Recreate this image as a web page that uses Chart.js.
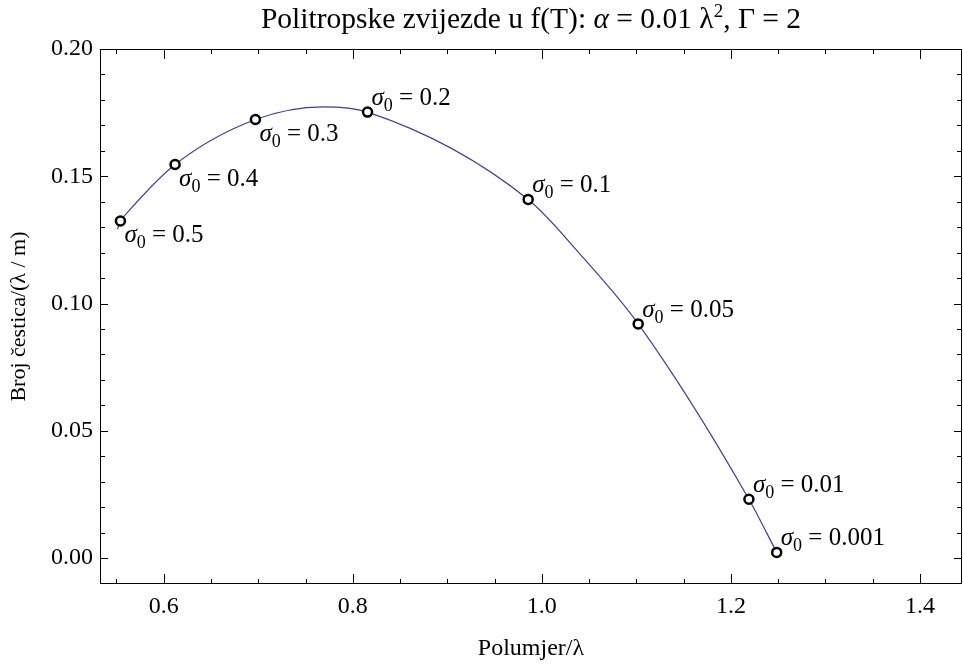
<!DOCTYPE html>
<html>
<head>
<meta charset="utf-8">
<script src="https://cdn.jsdelivr.net/npm/chart.js@4.4.0/dist/chart.umd.min.js"></script>
<style>
  html, body { margin: 0; padding: 0; background: #fff; }
</style>
</head>
<body>
<canvas id="myChart" width="963" height="668"></canvas>
<script>
// curve (radius / lambda, particle number)
const curveX = [0.5510, 0.5542, 0.5605, 0.6120, 0.6970, 0.7686, 0.8156, 0.9855, 1.0437, 1.1019, 1.2190, 1.2484];
const curveY = [0.1292, 0.1324, 0.1353, 0.1546, 0.1723, 0.1773, 0.1752, 0.1409, 0.1180, 0.0920, 0.0231, 0.0022];

// marked stars, one per central density
const sigmaLabels = ['0.5', '0.4', '0.3', '0.2', '0.1', '0.05', '0.01', '0.001'];
const markX = [0.5542, 0.6120, 0.6970, 0.8156, 0.9855, 1.1019, 1.2190, 1.2484];
const markY = [0.1324, 0.1546, 0.1723, 0.1752, 0.1409, 0.0920, 0.0231, 0.0022];

// axes
const xTicks = [0.6, 0.8, 1.0, 1.2, 1.4];
const xTickLabels = ['0.6', '0.8', '1.0', '1.2', '1.4'];
const yTicks = [0.00, 0.05, 0.10, 0.15, 0.20];
const yTickLabels = ['0.00', '0.05', '0.10', '0.15', '0.20'];

const FONT = '"Liberation Serif", "Times New Roman", serif';

const curveData = curveX.map((x, i) => ({ x: x, y: curveY[i] }));
const markData = markX.map((x, i) => ({ x: x, y: markY[i] }));

// draws pieces of text one after another: [text, font, dy]
function drawRun(ctx, parts, x, y) {
  parts.forEach(p => {
    ctx.font = p[1];
    ctx.fillText(p[0], x, y + (p[2] || 0));
    x += ctx.measureText(p[0]).width;
  });
}
function runWidth(ctx, parts) {
  let w = 0;
  parts.forEach(p => { ctx.font = p[1]; w += ctx.measureText(p[0]).width; });
  return w;
}

// frame with inward ticks, title and sigma labels (Mathematica look)
const framePlugin = {
  id: 'frame',
  afterDatasetsDraw(chart) {
    const ctx = chart.ctx;
    const a = chart.chartArea;
    const xs = chart.scales.x, ys = chart.scales.y;
    ctx.save();
    ctx.strokeStyle = '#000';
    ctx.lineWidth = 1;
    ctx.strokeRect(Math.round(a.left) + 0.5, Math.round(a.top) + 0.5,
                   Math.round(a.right - a.left) - 1, Math.round(a.bottom - a.top) - 1);

    ctx.beginPath();
    // x ticks every 0.05, longer on the labelled ones
    for (let k = 11; k <= 28; k++) {
      const v = k * 0.05;
      if (v < xs.min || v > xs.max) continue;
      const px = Math.round(xs.getPixelForValue(v)) + 0.5;
      const len = (k % 4 === 0) ? 10 : 5;
      ctx.moveTo(px, a.bottom); ctx.lineTo(px, a.bottom - len);
      ctx.moveTo(px, a.top); ctx.lineTo(px, a.top + len);
    }
    // y ticks every 0.01
    for (let k = -1; k <= 20; k++) {
      const v = k * 0.01;
      if (v < ys.min || v > ys.max) continue;
      const py = Math.round(ys.getPixelForValue(v)) + 0.5;
      const len = (k % 5 === 0) ? 8 : 5;
      ctx.moveTo(a.left, py); ctx.lineTo(a.left + len, py);
      ctx.moveTo(a.right, py); ctx.lineTo(a.right - len, py);
    }
    ctx.stroke();

    ctx.fillStyle = '#000';
    ctx.textAlign = 'left';

    // title
    const T = '29.5px ' + FONT, TI = 'italic 29.5px ' + FONT, TS = '19px ' + FONT;
    const title = [
      ['Politropske zvijezde u f(T): ', T], ['α', TI], [' = 0.01 λ', T], ['2', TS, -11], [', Γ = 2', T]
    ];
    ctx.textBaseline = 'alphabetic';
    const tw = runWidth(ctx, title);
    drawRun(ctx, title, (a.left + a.right) / 2 - tw / 2, 28);

    // sigma_0 labels
    const meta = chart.getDatasetMeta(0);
    meta.data.forEach((pt, i) => {
      const y = pt.y + (i < 3 ? 21 : -7);
      drawRun(ctx, [
        ['σ', 'italic 25px ' + FONT], ['0', '18px ' + FONT, 6], [' = ' + sigmaLabels[i], '25px ' + FONT]
      ], pt.x + 4, y);
    });
    ctx.restore();
  }
};

const data = {
  datasets: [
    {
      label: 'sigma0',
      data: markData,
      showLine: false,
      pointRadius: 4.5,
      pointBorderWidth: 2.5,
      pointBorderColor: '#000',
      pointBackgroundColor: '#fff',
      order: 0
    },
    {
      label: 'curve',
      data: curveData,
      showLine: true,
      borderColor: 'rgb(61, 61, 153)',
      borderWidth: 1.2,
      pointRadius: 0,
      cubicInterpolationMode: 'monotone',
      order: 1
    }
  ]
};

const config = {
  type: 'scatter',
  data: data,
  options: {
    responsive: false,
    animation: false,
    layout: { autoPadding: false, padding: { left: 0, right: 1, top: 49, bottom: 0 } },
    plugins: {
      legend: { display: false },
      tooltip: { enabled: false },
      title: { display: false }
    },
    scales: {
      x: {
        type: 'linear',
        min: 0.5326,
        max: 1.4444,
        afterBuildTicks: s => { s.ticks = xTicks.map(v => ({ value: v })); },
        afterFit: s => { s.height = 84; s.paddingLeft = 0; s.paddingRight = 0; },
        grid: { display: false, drawTicks: false },
        border: { display: false },
        ticks: {
          color: '#000',
          font: { family: FONT, size: 24 },
          padding: 8,
          maxRotation: 0,
          autoSkip: false,
          callback: (v, i) => xTickLabels[i]
        },
        title: {
          display: true,
          text: 'Polumjer/λ',
          color: '#000',
          font: { family: FONT, size: 24 },
          padding: { top: 0, bottom: 5 }
        }
      },
      y: {
        type: 'linear',
        min: -0.0102,
        max: 0.2,
        afterBuildTicks: s => { s.ticks = yTicks.map(v => ({ value: v })); },
        afterFit: s => { s.width = 100; s.paddingTop = 0; s.paddingBottom = 0; },
        grid: { display: false, drawTicks: false },
        border: { display: false },
        ticks: {
          color: '#000',
          font: { family: FONT, size: 24 },
          padding: 7,
          autoSkip: false,
          callback: (v, i) => yTickLabels[i]
        },
        title: {
          display: true,
          text: 'Broj čestica/(λ / m)',
          color: '#000',
          font: { family: FONT, size: 22 },
          padding: { top: 6, bottom: 0 }
        }
      }
    }
  },
  plugins: [framePlugin]
};

const myChart = new Chart(document.getElementById('myChart'), config);
</script>
</body>
</html>
